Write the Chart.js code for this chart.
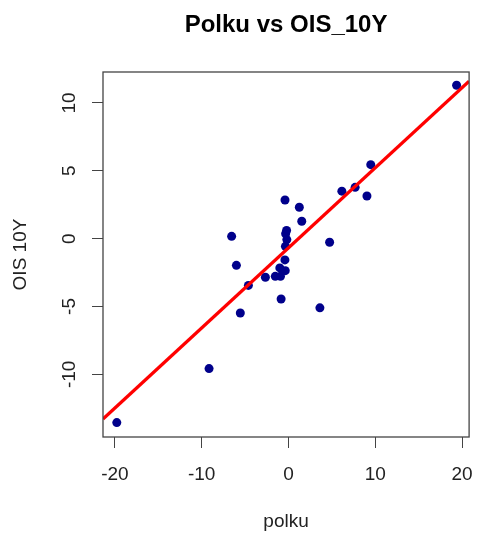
<!DOCTYPE html>
<html>
<head>
<meta charset="utf-8">
<script src="https://cdn.jsdelivr.net/npm/chart.js@4"></script>
<style>
  html, body { margin: 0; padding: 0; background: #fff; }
  canvas { display: block; }
</style>
</head>
<body>
<canvas id="scatterChart" width="488" height="534"></canvas>
<script>
// data
const polku = [19.37, 9.48, 6.15, 7.68, 9.04, -0.40, 1.25, 1.53, -6.55, -0.22,
  -0.33, -0.19, -0.35, -0.41, -1.00, -0.37, -0.92, -1.52, -2.66, -4.62,
  -6.00, -5.55, -0.85, 3.62, 4.74, -9.15, -19.78];
const ois10y = [11.30, 5.45, 3.50, 3.78, 3.14, 2.85, 2.31, 1.28, 0.17, 0.60,
  0.36, -0.07, -0.57, -1.57, -2.16, -2.36, -2.78, -2.78, -2.85, -3.45,
  -1.97, -5.48, -4.45, -5.10, -0.27, -9.58, -13.56];

// fitted line (abline) coefficients
const intercept = -0.68;
const slope = 0.59;

const xTicks = [-20, -10, 0, 10, 20];
const yTicks = [-10, -5, 0, 5, 10];
const xRange = [-21.37, 20.81];
const yRange = [-14.62, 12.28];

const points = polku.map((x, i) => ({ x: x, y: ois10y[i] }));
const fitLine = xRange.map(x => ({ x: x, y: intercept + slope * x }));

const fontFamily = "'Liberation Sans', Arial, sans-serif";

// R style box around the plot region
const boxPlugin = {
  id: 'plotBox',
  afterDatasetsDraw(chart) {
    const a = chart.chartArea;
    const ctx = chart.ctx;
    ctx.save();
    ctx.strokeStyle = '#444';
    ctx.lineWidth = 1.3;
    ctx.strokeRect(a.left, a.top, a.right - a.left, a.bottom - a.top);
    ctx.restore();
  }
};

const ctx = document.getElementById('scatterChart').getContext('2d');

new Chart(ctx, {
  type: 'scatter',
  data: {
    datasets: [
      {
        type: 'line',
        data: fitLine,
        borderColor: '#ff0000',
        borderWidth: 3.3,
        pointRadius: 0,
        fill: false
      },
      {
        data: points,
        backgroundColor: '#00008b',
        borderWidth: 0,
        pointRadius: 4.5
      }
    ]
  },
  options: {
    responsive: false,
    animation: false,
    layout: { padding: { left: 0, right: 4, top: 0, bottom: 0 } },
    plugins: {
      legend: { display: false },
      tooltip: { enabled: false },
      title: {
        display: true,
        text: 'Polku vs OIS_10Y',
        fullSize: false,
        color: '#000',
        font: { family: fontFamily, size: 24, weight: 'bold' },
        padding: { top: 10.5, bottom: 32.7 }
      }
    },
    scales: {
      x: {
        type: 'linear',
        min: xRange[0],
        max: xRange[1],
        afterBuildTicks: axis => { axis.ticks = xTicks.map(v => ({ value: v })); },
        afterFit: axis => { axis.height = 97; },
        grid: { drawOnChartArea: false, drawTicks: true, tickLength: 11, color: '#444' },
        border: { display: false },
        ticks: {
          autoSkip: false,
          maxRotation: 0,
          padding: 15,
          color: '#222',
          font: { family: fontFamily, size: 19 }
        },
        title: {
          display: true,
          text: 'polku',
          color: '#222',
          font: { family: fontFamily, size: 19 },
          padding: { top: 0, bottom: 1 }
        }
      },
      y: {
        type: 'linear',
        min: yRange[0],
        max: yRange[1],
        afterBuildTicks: axis => { axis.ticks = yTicks.map(v => ({ value: v })); },
        afterFit: axis => { axis.width = 103; },
        grid: { drawOnChartArea: false, drawTicks: true, tickLength: 11, color: '#444' },
        border: { display: false },
        ticks: {
          autoSkip: false,
          minRotation: 90,
          maxRotation: 90,
          crossAlign: 'center',
          padding: 9,
          color: '#222',
          font: { family: fontFamily, size: 19 }
        },
        title: {
          display: true,
          text: 'OIS 10Y',
          color: '#222',
          font: { family: fontFamily, size: 19 },
          padding: { top: 9, bottom: 0 }
        }
      }
    }
  },
  plugins: [boxPlugin]
});
</script>
</body>
</html>
